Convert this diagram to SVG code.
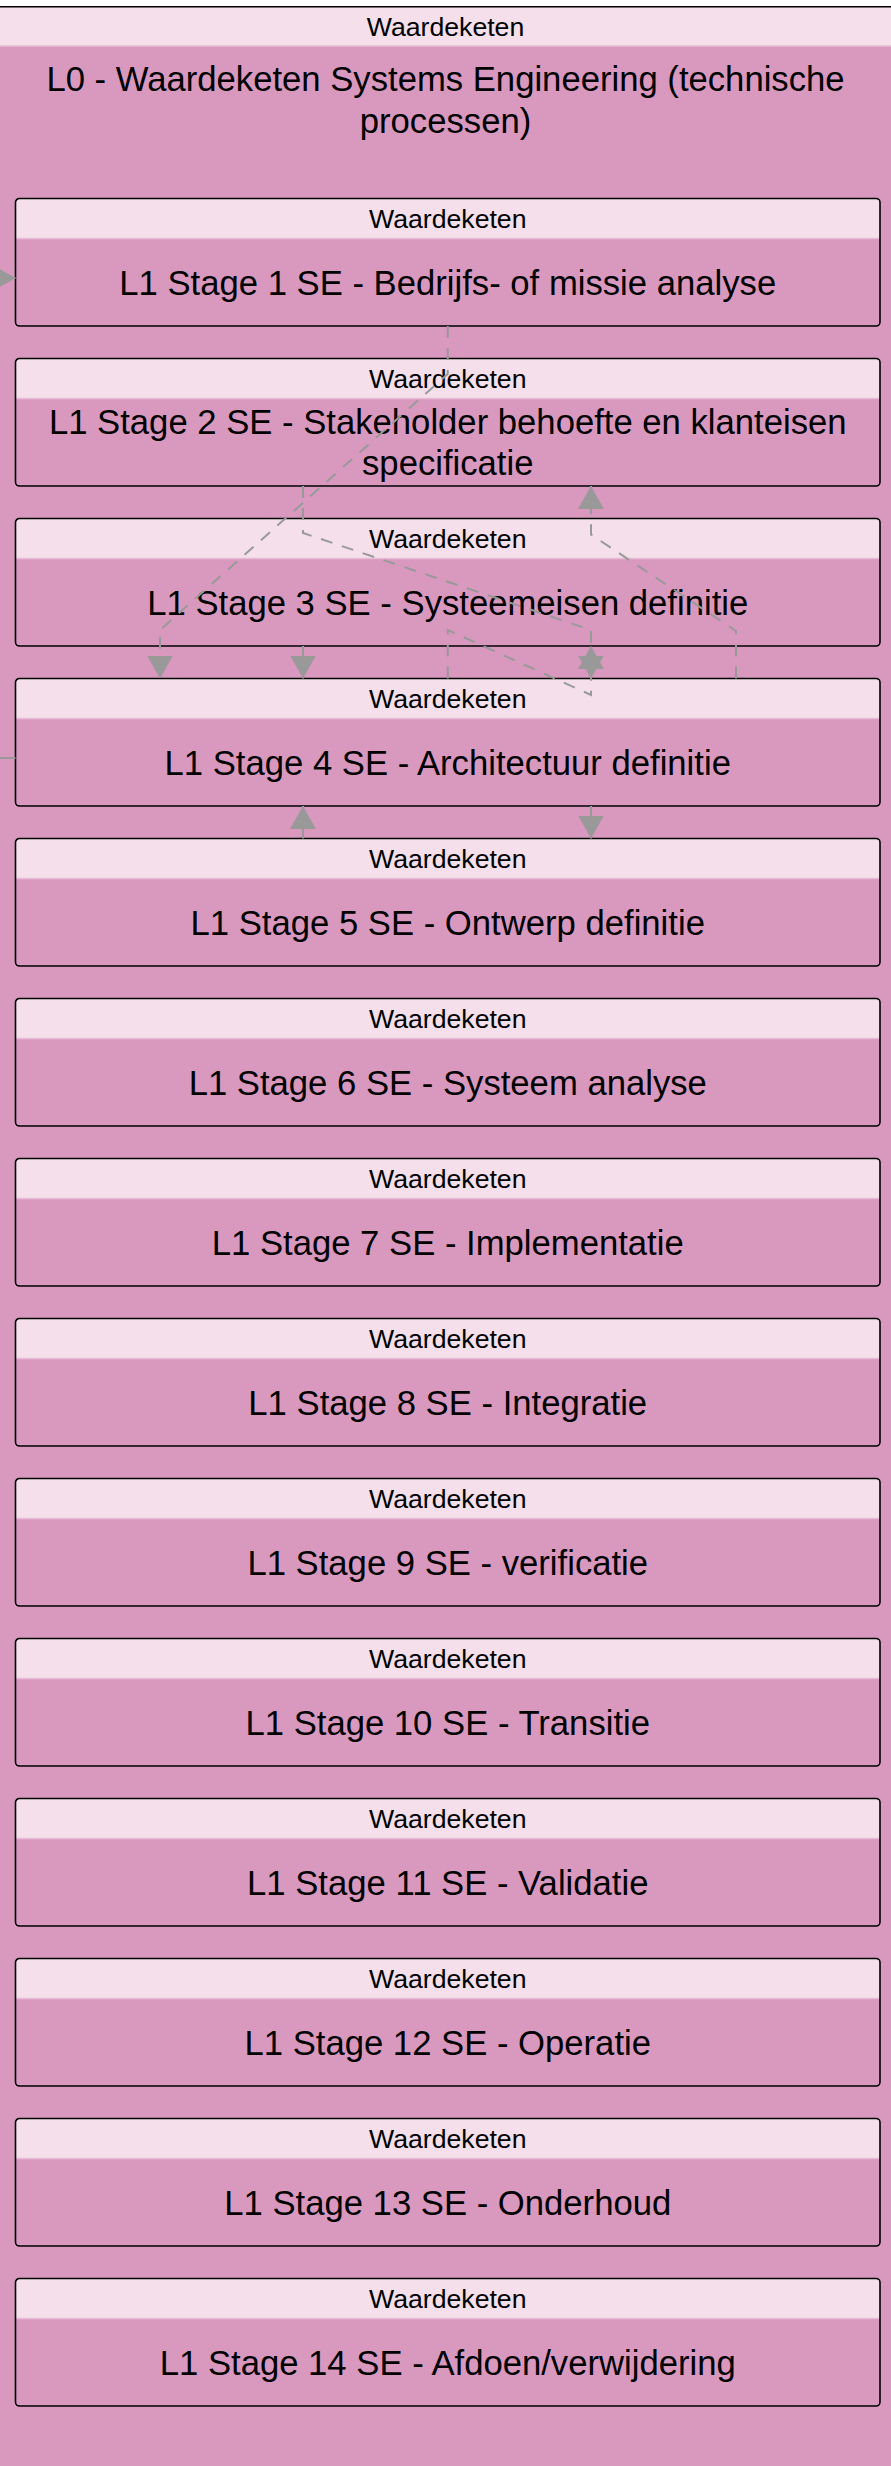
<svg xmlns="http://www.w3.org/2000/svg" width="891" height="2466" viewBox="0 0 891 2466">
<defs>
<style>
.bg{fill:#D998BE}
.hdr{fill:#F4DFEB}
.sep{stroke:#E6BCD4;stroke-width:1.5}
.frame{fill:none;stroke:#000;stroke-width:1.6}
.t{font-family:"Liberation Sans",Arial,sans-serif;text-anchor:middle;fill:#000}
.s{font-size:26.67px}
.l{font-size:34.67px}
.edge{fill:none;stroke:#999;stroke-width:2;stroke-dasharray:12 10}
.edge-solid{fill:none;stroke:#999;stroke-width:2}
</style>
<marker id="arr" viewBox="0 0 23 26" refX="23" refY="13" markerWidth="23" markerHeight="26" markerUnits="userSpaceOnUse" orient="auto">
<path d="M0,0 L23,13 L0,26 z" fill="#999"/>
</marker>
</defs>
<rect x="0" y="0" width="891" height="2466" fill="#fff"/>

<g id="L0">
<rect class="bg" x="-10" y="6.7" width="911" height="2470"/>
<rect class="hdr" x="-10" y="6.7" width="911" height="39.3"/>
<line class="sep" x1="-10" y1="46" x2="901" y2="46"/>
<line x1="-10" y1="6.7" x2="901" y2="6.7" stroke="#000" stroke-width="1.6"/>
<text class="t s" x="445.5" y="36">Waardeketen</text>
<text class="t l" x="445.5" y="91">L0 - Waardeketen Systems Engineering (technische</text>
<text class="t l" x="445.5" y="133">processen)</text>
</g>

<g id="n1" transform="translate(0,198.5)">
<rect class="bg" x="15.5" y="0" width="864.5" height="127.5" rx="4"/>
<path class="hdr" d="M15.5,40V4Q15.5,0 19.5,0H876Q880,0 880,4V40Z"/>
<line class="sep" x1="16" y1="40" x2="879.5" y2="40"/>
<rect class="frame" x="15.5" y="0" width="864.5" height="127.5" rx="4"/>
<text class="t s" x="447.75" y="29.5">Waardeketen</text>
<text class="t l" x="447.75" y="96.4">L1 Stage 1 SE - Bedrijfs- of missie analyse</text>
</g>

<g id="n2" transform="translate(0,358.5)">
<rect class="bg" x="15.5" y="0" width="864.5" height="127.5" rx="4"/>
<path class="hdr" d="M15.5,40V4Q15.5,0 19.5,0H876Q880,0 880,4V40Z"/>
<line class="sep" x1="16" y1="40" x2="879.5" y2="40"/>
<rect class="frame" x="15.5" y="0" width="864.5" height="127.5" rx="4"/>
<text class="t s" x="447.75" y="29.5">Waardeketen</text>
<text class="t l" x="447.75" y="75">L1 Stage 2 SE - Stakeholder behoefte en klanteisen</text>
<text class="t l" x="447.75" y="116.6">specificatie</text>
</g>

<g id="n3" transform="translate(0,518.5)">
<rect class="bg" x="15.5" y="0" width="864.5" height="127.5" rx="4"/>
<path class="hdr" d="M15.5,40V4Q15.5,0 19.5,0H876Q880,0 880,4V40Z"/>
<line class="sep" x1="16" y1="40" x2="879.5" y2="40"/>
<rect class="frame" x="15.5" y="0" width="864.5" height="127.5" rx="4"/>
<text class="t s" x="447.75" y="29.5">Waardeketen</text>
<text class="t l" x="447.75" y="96.4">L1 Stage 3 SE - Systeemeisen definitie</text>
</g>

<g id="n4" transform="translate(0,678.5)">
<rect class="bg" x="15.5" y="0" width="864.5" height="127.5" rx="4"/>
<path class="hdr" d="M15.5,40V4Q15.5,0 19.5,0H876Q880,0 880,4V40Z"/>
<line class="sep" x1="16" y1="40" x2="879.5" y2="40"/>
<rect class="frame" x="15.5" y="0" width="864.5" height="127.5" rx="4"/>
<text class="t s" x="447.75" y="29.5">Waardeketen</text>
<text class="t l" x="447.75" y="96.4">L1 Stage 4 SE - Architectuur definitie</text>
</g>

<g id="n5" transform="translate(0,838.5)">
<rect class="bg" x="15.5" y="0" width="864.5" height="127.5" rx="4"/>
<path class="hdr" d="M15.5,40V4Q15.5,0 19.5,0H876Q880,0 880,4V40Z"/>
<line class="sep" x1="16" y1="40" x2="879.5" y2="40"/>
<rect class="frame" x="15.5" y="0" width="864.5" height="127.5" rx="4"/>
<text class="t s" x="447.75" y="29.5">Waardeketen</text>
<text class="t l" x="447.75" y="96.4">L1 Stage 5 SE - Ontwerp definitie</text>
</g>

<g id="n6" transform="translate(0,998.5)">
<rect class="bg" x="15.5" y="0" width="864.5" height="127.5" rx="4"/>
<path class="hdr" d="M15.5,40V4Q15.5,0 19.5,0H876Q880,0 880,4V40Z"/>
<line class="sep" x1="16" y1="40" x2="879.5" y2="40"/>
<rect class="frame" x="15.5" y="0" width="864.5" height="127.5" rx="4"/>
<text class="t s" x="447.75" y="29.5">Waardeketen</text>
<text class="t l" x="447.75" y="96.4">L1 Stage 6 SE - Systeem analyse</text>
</g>

<g id="n7" transform="translate(0,1158.5)">
<rect class="bg" x="15.5" y="0" width="864.5" height="127.5" rx="4"/>
<path class="hdr" d="M15.5,40V4Q15.5,0 19.5,0H876Q880,0 880,4V40Z"/>
<line class="sep" x1="16" y1="40" x2="879.5" y2="40"/>
<rect class="frame" x="15.5" y="0" width="864.5" height="127.5" rx="4"/>
<text class="t s" x="447.75" y="29.5">Waardeketen</text>
<text class="t l" x="447.75" y="96.4">L1 Stage 7 SE - Implementatie</text>
</g>

<g id="n8" transform="translate(0,1318.5)">
<rect class="bg" x="15.5" y="0" width="864.5" height="127.5" rx="4"/>
<path class="hdr" d="M15.5,40V4Q15.5,0 19.5,0H876Q880,0 880,4V40Z"/>
<line class="sep" x1="16" y1="40" x2="879.5" y2="40"/>
<rect class="frame" x="15.5" y="0" width="864.5" height="127.5" rx="4"/>
<text class="t s" x="447.75" y="29.5">Waardeketen</text>
<text class="t l" x="447.75" y="96.4">L1 Stage 8 SE - Integratie</text>
</g>

<g id="n9" transform="translate(0,1478.5)">
<rect class="bg" x="15.5" y="0" width="864.5" height="127.5" rx="4"/>
<path class="hdr" d="M15.5,40V4Q15.5,0 19.5,0H876Q880,0 880,4V40Z"/>
<line class="sep" x1="16" y1="40" x2="879.5" y2="40"/>
<rect class="frame" x="15.5" y="0" width="864.5" height="127.5" rx="4"/>
<text class="t s" x="447.75" y="29.5">Waardeketen</text>
<text class="t l" x="447.75" y="96.4">L1 Stage 9 SE - verificatie</text>
</g>

<g id="n10" transform="translate(0,1638.5)">
<rect class="bg" x="15.5" y="0" width="864.5" height="127.5" rx="4"/>
<path class="hdr" d="M15.5,40V4Q15.5,0 19.5,0H876Q880,0 880,4V40Z"/>
<line class="sep" x1="16" y1="40" x2="879.5" y2="40"/>
<rect class="frame" x="15.5" y="0" width="864.5" height="127.5" rx="4"/>
<text class="t s" x="447.75" y="29.5">Waardeketen</text>
<text class="t l" x="447.75" y="96.4">L1 Stage 10 SE - Transitie</text>
</g>

<g id="n11" transform="translate(0,1798.5)">
<rect class="bg" x="15.5" y="0" width="864.5" height="127.5" rx="4"/>
<path class="hdr" d="M15.5,40V4Q15.5,0 19.5,0H876Q880,0 880,4V40Z"/>
<line class="sep" x1="16" y1="40" x2="879.5" y2="40"/>
<rect class="frame" x="15.5" y="0" width="864.5" height="127.5" rx="4"/>
<text class="t s" x="447.75" y="29.5">Waardeketen</text>
<text class="t l" x="447.75" y="96.4">L1 Stage 11 SE - Validatie</text>
</g>

<g id="n12" transform="translate(0,1958.5)">
<rect class="bg" x="15.5" y="0" width="864.5" height="127.5" rx="4"/>
<path class="hdr" d="M15.5,40V4Q15.5,0 19.5,0H876Q880,0 880,4V40Z"/>
<line class="sep" x1="16" y1="40" x2="879.5" y2="40"/>
<rect class="frame" x="15.5" y="0" width="864.5" height="127.5" rx="4"/>
<text class="t s" x="447.75" y="29.5">Waardeketen</text>
<text class="t l" x="447.75" y="96.4">L1 Stage 12 SE - Operatie</text>
</g>

<g id="n13" transform="translate(0,2118.5)">
<rect class="bg" x="15.5" y="0" width="864.5" height="127.5" rx="4"/>
<path class="hdr" d="M15.5,40V4Q15.5,0 19.5,0H876Q880,0 880,4V40Z"/>
<line class="sep" x1="16" y1="40" x2="879.5" y2="40"/>
<rect class="frame" x="15.5" y="0" width="864.5" height="127.5" rx="4"/>
<text class="t s" x="447.75" y="29.5">Waardeketen</text>
<text class="t l" x="447.75" y="96.4">L1 Stage 13 SE - Onderhoud</text>
</g>

<g id="n14" transform="translate(0,2278.5)">
<rect class="bg" x="15.5" y="0" width="864.5" height="127.5" rx="4"/>
<path class="hdr" d="M15.5,40V4Q15.5,0 19.5,0H876Q880,0 880,4V40Z"/>
<line class="sep" x1="16" y1="40" x2="879.5" y2="40"/>
<rect class="frame" x="15.5" y="0" width="864.5" height="127.5" rx="4"/>
<text class="t s" x="447.75" y="29.5">Waardeketen</text>
<text class="t l" x="447.75" y="96.4">L1 Stage 14 SE - Afdoen/verwijdering</text>
</g>

<g id="connectors">
<path class="edge-solid" d="M15.5,758H-40V278H15.5" marker-end="url(#arr)"/>
<path class="edge" d="M447.75,326V374L160,630V678.5" marker-end="url(#arr)"/>
<path class="edge" d="M303,486V533L591,630V678.5" marker-end="url(#arr)"/>
<path class="edge" d="M303,646V678.5" marker-end="url(#arr)"/>
<path class="edge" d="M447.75,678.5V630L591,695V646" marker-end="url(#arr)"/>
<path class="edge" d="M736,678.5V631L591,534.5V486" marker-end="url(#arr)"/>
<path class="edge" d="M303,838.5V806" marker-end="url(#arr)"/>
<path class="edge" d="M591,806V838.5" marker-end="url(#arr)"/>
</g>
</svg>
